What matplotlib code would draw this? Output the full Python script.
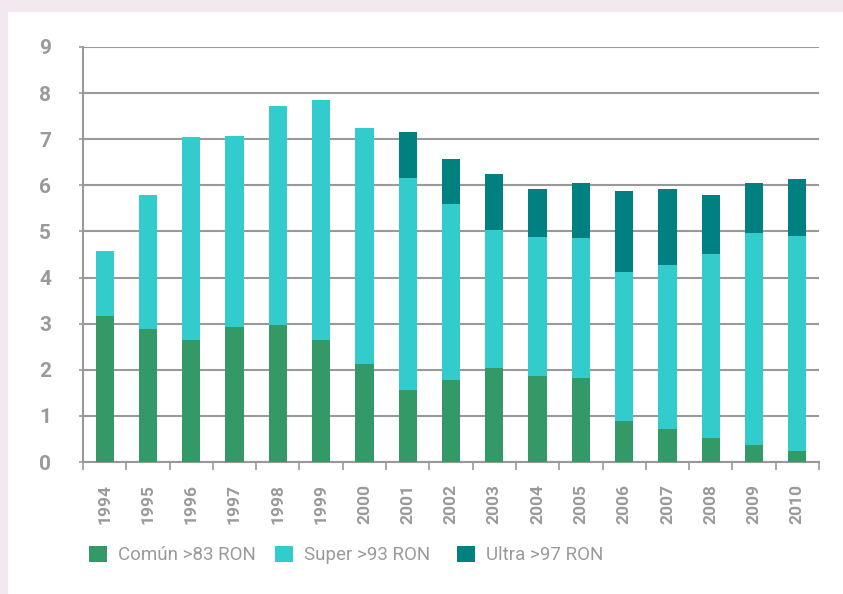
import matplotlib
matplotlib.use("Agg")
import matplotlib.pyplot as plt
from matplotlib.patches import Patch, Rectangle
import numpy as np

years = [str(y) for y in range(1994, 2011)]
comun = [3.17, 2.88, 2.65, 2.93, 2.97, 2.65, 2.13, 1.56, 1.77, 2.03, 1.86, 1.82, 0.89, 0.71, 0.52, 0.37, 0.24]
total_super = [4.58, 5.79, 7.05, 7.07, 7.72, 7.85, 7.24, 6.15, 5.59, 5.04, 4.87, 4.85, 4.11, 4.28, 4.52, 4.96, 4.91]
total_ultra = [4.58, 5.79, 7.05, 7.07, 7.72, 7.85, 7.24, 7.15, 6.58, 6.24, 5.93, 6.04, 5.87, 5.93, 5.80, 6.04, 6.13]
labels = ["Común >83 RON", "Super >93 RON", "Ultra >97 RON"]
colors = ["#339966", "#33CCCC", "#008080"]

super_ = [s - c for s, c in zip(total_super, comun)]
ultra = [u - s for u, s in zip(total_ultra, total_super)]

plt.rcParams['font.family'] = ['Roboto', 'DejaVu Sans']
grey = "#9a9a9c"

fig = plt.figure(figsize=(8.43, 5.94), dpi=100, facecolor="#f3e8ef")
fig.patches.append(Rectangle((8/843, 0), 1 - 8/843, 1 - 12/594, transform=fig.transFigure,
                             facecolor="white", edgecolor="none", zorder=-5))
ax = fig.add_axes([83/843, (594-462)/594, (819-83)/843, (462-47)/594])
ax.set_facecolor("none")

x = np.arange(len(years))
w = 0.42
ax.bar(x, comun, w, color=colors[0], zorder=3)
ax.bar(x, super_, w, bottom=comun, color=colors[1], zorder=3)
ax.bar(x, ultra, w, bottom=total_super, color=colors[2], zorder=3)

ax.set_xlim(-0.5, len(years) - 0.5)
ax.set_ylim(0, 9)
ax.set_yticks(range(0, 10))
ax.yaxis.grid(True, color="#999999", lw=1.5, zorder=1)
ax.set_axisbelow(True)

ax.set_xticks(x)
ax.set_xticklabels(years, rotation=90, color=grey, fontsize=12.5, fontweight='bold')
ax.tick_params(axis='x', length=0, pad=16)
ax.set_xticks(np.arange(-0.5, len(years)), minor=True)
ax.tick_params(axis='x', which='minor', length=6, width=1.2, color="#999999")
ax.tick_params(axis='y', length=3, width=1.2, color="#999999", labelsize=15, labelcolor=grey, pad=20)
for t in ax.get_yticklabels():
    t.set_fontweight('bold')

for s in ["top", "right"]:
    ax.spines[s].set_visible(False)
for s in ["left", "bottom"]:
    ax.spines[s].set_color("#999999")
    ax.spines[s].set_linewidth(1.5)

marker_x = [89, 275, 457]
for c, lab, mx in zip(colors, labels, marker_x):
    leg = fig.legend([Patch(facecolor=c, edgecolor="none")], [lab], loc="center left",
                     bbox_to_anchor=(mx/843, (594-555)/594), frameon=False,
                     handlelength=0.95, handleheight=0.95, handletextpad=0.6,
                     borderpad=0, borderaxespad=0, prop={'size': 13.5})
    for t in leg.get_texts():
        t.set_color(grey)

fig.savefig("out.png", dpi=100, facecolor=fig.get_facecolor())
